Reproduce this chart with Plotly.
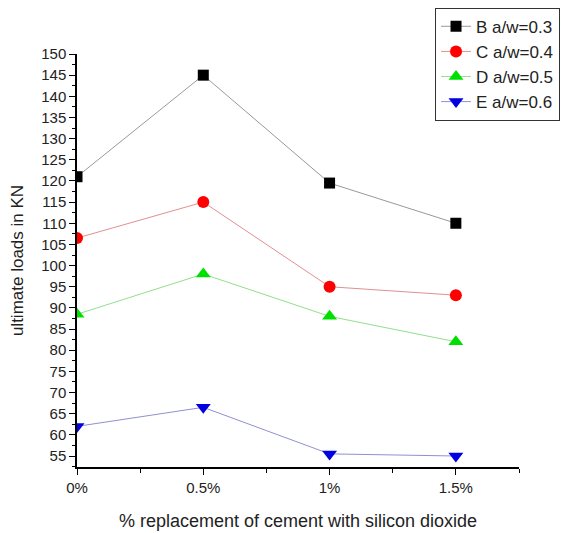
import plotly.graph_objects as go

x_labels = ["0%", "0.5%", "1%", "1.5%"]
x_vals = [0, 0.5, 1.0, 1.5]
series_names = ["B a/w=0.3", "C a/w=0.4", "D a/w=0.5", "E a/w=0.6"]
b_vals = [121, 145, 119.5, 110]
c_vals = [106.5, 115, 95, 93]
d_vals = [88.5, 98, 88, 82]
e_vals = [62, 66.5, 55.5, 55]

styles = [
    (b_vals, "square", "black", "#999999", 11),
    (c_vals, "circle", "red", "#e09090", 12),
    (d_vals, "triangle-up", "#00e000", "#90e090", 13),
    (e_vals, "triangle-down", "#0000e0", "#9090d0", 13),
]

fig = go.Figure()
for i, (name, (vals, sym, mc, lc, sz)) in enumerate(zip(series_names, styles)):
    fig.add_trace(go.Scatter(
        x=x_vals, y=vals, name=name, mode="lines+markers", legendgroup=f"g{i}",
        line=dict(color=lc, width=1),
        marker=dict(symbol=sym, color=mc, size=sz, line=dict(width=0)),
    ))

font = "Liberation Sans, Arial, sans-serif"
fig.update_layout(
    width=575, height=533,
    margin=dict(l=69, r=64, t=46, b=74, autoexpand=False),
    paper_bgcolor="white", plot_bgcolor="white",
    font=dict(family=font, size=15, color="#222"),
    showlegend=True,
    legend=dict(
        x=0.81, y=1.112, xref="paper", yref="paper", xanchor="left", yanchor="top",
        bordercolor="#333", borderwidth=1, bgcolor="white",
        font=dict(size=17, color="#222"), tracegroupgap=0,
    ),
    xaxis=dict(
        range=[0, 1.75], tickvals=x_vals, ticktext=x_labels,
        showline=True, linecolor="black", linewidth=1.5,
        ticks="outside", ticklen=6, tickcolor="black", showgrid=False, zeroline=False,
        minor=dict(tickvals=[0.25, 0.75, 1.25, 1.75], ticks="outside", ticklen=4, tickcolor="black"),
        title=dict(text="% replacement of cement with silicon dioxide", font=dict(size=18), standoff=20),
        tickfont=dict(size=15),
    ),
    yaxis=dict(
        range=[52.4, 150], tickmode="linear", tick0=55, dtick=5,
        showline=True, linecolor="black", linewidth=1.5,
        ticks="outside", ticklen=6, tickcolor="black", showgrid=False, zeroline=False,
        minor=dict(dtick=2.5, ticks="outside", ticklen=3, tickcolor="black"),
        title=dict(text="ultimate loads in KN", font=dict(size=17), standoff=18),
        tickfont=dict(size=15),
    ),
)

fig.write_html("out.html")
